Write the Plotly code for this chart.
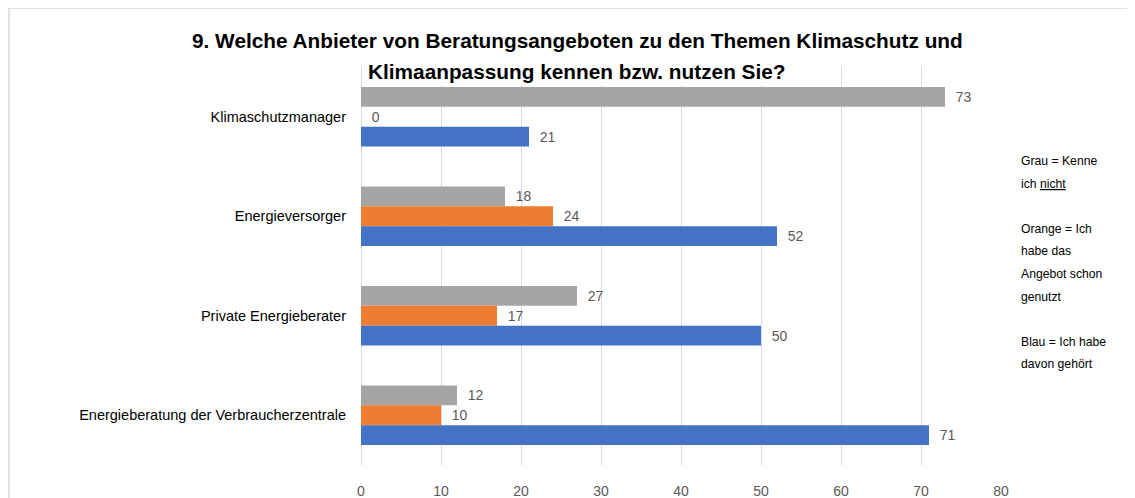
import plotly.graph_objects as go

categories = ["Klimaschutzmanager", "Energieversorger", "Private Energieberater",
              "Energieberatung der Verbraucherzentrale"]
grau = [73, 18, 27, 12]
orange = [0, 24, 17, 10]
blau = [21, 52, 50, 71]
x_ticks = [0, 10, 20, 30, 40, 50, 60, 70, 80]
title_line1 = "9. Welche Anbieter von Beratungsangeboten zu den Themen Klimaschutz und"
title_line2 = "Klimaanpassung kennen bzw. nutzen Sie?"
note_lines = ["Grau = Kenne", "ich <u>nicht</u>", "", "Orange = Ich", "habe das",
              "Angebot schon", "genutzt", "", "Blau = Ich habe", "davon gehört"]

FONT = "Liberation Sans"
OFF = 8  # page body margin
W, H = 1135 - OFF, 498 - OFF
# plot area in page (reference) pixels
L, R, T, B = 361, 1001, 67, 465


def px(x):
    return (x - L) / (R - L)


def py(y):
    return (B - y) / (B - T)


fig = go.Figure()
for name, vals, col in [("Grau", grau, "#A5A5A5"), ("Orange", orange, "#ED7D31"),
                        ("Blau", blau, "#4472C4")]:
    fig.add_trace(go.Bar(
        y=categories, x=vals, orientation="h", name=name,
        marker=dict(color=col, line=dict(width=0)),
        text=vals, texttemplate="\u00a0\u00a0%{x}", textposition="outside",
        textfont=dict(family=FONT, size=14, color="#595959"),
        cliponaxis=False,
    ))

annotations = [
    dict(text="<b>" + title_line1 + "</b>", x=px(577), y=py(40), xref="paper", yref="paper",
         showarrow=False, font=dict(family=FONT, size=20.8, color="#000000"),
         xanchor="center", yanchor="middle"),
    dict(text="<b>" + title_line2 + "</b>", x=px(577), y=py(71), xref="paper", yref="paper",
         showarrow=False, font=dict(family=FONT, size=20.8, color="#000000"),
         xanchor="center", yanchor="middle", bgcolor="white", borderpad=2),
]
for i, line in enumerate(note_lines):
    if not line:
        continue
    annotations.append(dict(
        text=line, x=px(1019), y=py(161 + 22.6 * i), xref="paper", yref="paper",
        showarrow=False, xanchor="left", yanchor="middle",
        font=dict(family=FONT, size=12.2, color="#000000")))

fig.update_layout(
    width=W, height=H,
    margin=dict(l=L - OFF, r=W - (R - OFF), t=T - OFF, b=H - (B - OFF), pad=0,
                autoexpand=False),
    paper_bgcolor="white", plot_bgcolor="white",
    barmode="group", bargap=0.4, bargroupgap=0,
    showlegend=False,
    font=dict(family=FONT, size=14.5, color="#000000"),
    annotations=annotations,
    shapes=[dict(type="path", xref="paper", yref="paper",
                 path=f"M {px(9)},{py(520)} L {px(9)},{py(8)} L {px(1160)},{py(8)}",
                 line=dict(color="#D9D9D9", width=1.5), layer="below")],
)
fig.update_xaxes(range=[0, 80], tickvals=x_ticks, showgrid=True, gridcolor="#D9D9D9",
                 gridwidth=1, zeroline=True, zerolinecolor="#D9D9D9", zerolinewidth=1,
                 showline=False, ticks="", ticklabelstandoff=16, automargin=False,
                 tickfont=dict(family=FONT, size=14, color="#595959"))
fig.update_yaxes(autorange="reversed", showgrid=False, showline=False, ticks="",
                 ticklabelstandoff=14, automargin=False,
                 tickfont=dict(family=FONT, size=14.5, color="#000000"))

fig.write_html("out.html")
